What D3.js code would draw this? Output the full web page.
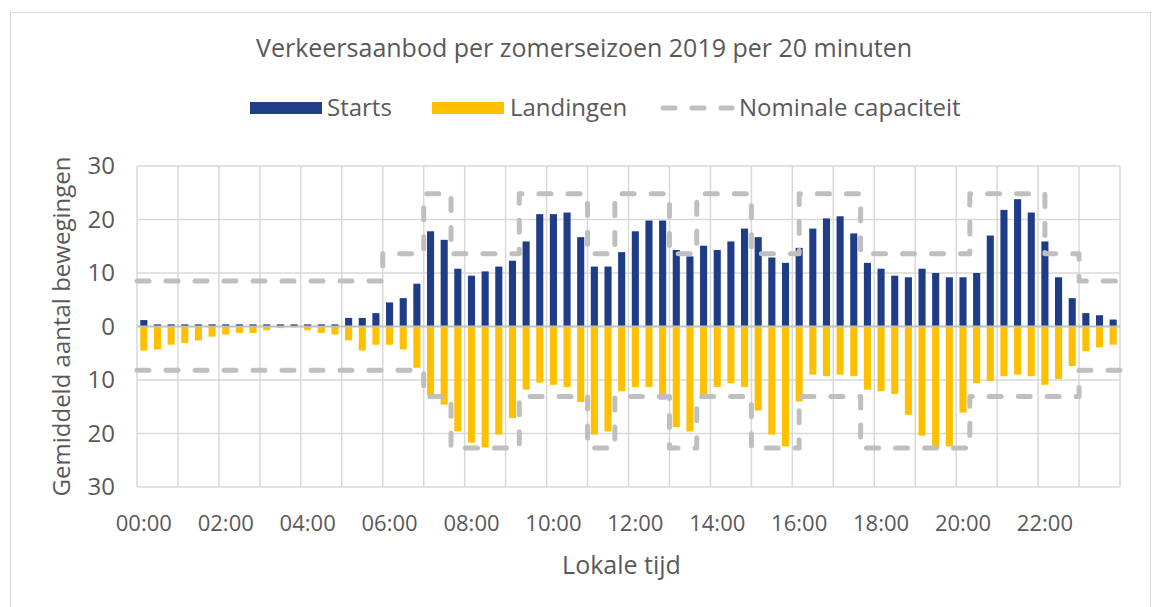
<!DOCTYPE html>
<html>
<head>
<meta charset="utf-8">
<script src="https://cdn.jsdelivr.net/npm/d3@7"></script>
<style>
  body { margin: 0; background: #fff; }
  text { font-family: "Open Sans", sans-serif; fill: #595959; }
</style>
</head>
<body>
<div id="chart"></div>
<script>
// 72 slots of 20 minutes
const categories = [
  "00:00","00:20","00:40","01:00","01:20","01:40","02:00","02:20","02:40","03:00","03:20","03:40",
  "04:00","04:20","04:40","05:00","05:20","05:40","06:00","06:20","06:40","07:00","07:20","07:40",
  "08:00","08:20","08:40","09:00","09:20","09:40","10:00","10:20","10:40","11:00","11:20","11:40",
  "12:00","12:20","12:40","13:00","13:20","13:40","14:00","14:20","14:40","15:00","15:20","15:40",
  "16:00","16:20","16:40","17:00","17:20","17:40","18:00","18:20","18:40","19:00","19:20","19:40",
  "20:00","20:20","20:40","21:00","21:20","21:40","22:00","22:20","22:40","23:00","23:20","23:40"
]

const starts = [
  1.2, 0.4, 0.4, 0.4, 0.4, 0.4, 0.4, 0.4, 0.4, 0.4, 0.4, 0.4,
  0.4, 0.4, 0.4, 1.6, 1.6, 2.5, 4.5, 5.3, 8.0, 17.8, 16.2, 10.8,
  9.5, 10.3, 11.2, 12.3, 15.9, 21.0, 21.0, 21.3, 16.7, 11.2, 11.2, 13.9,
  17.8, 19.8, 19.8, 14.3, 13.1, 15.1, 14.3, 15.9, 18.3, 16.7, 12.9, 11.9,
  14.7, 18.3, 20.2, 20.6, 17.4, 11.9, 10.8, 9.5, 9.2, 10.8, 10.0, 9.2,
  9.2, 10.0, 17.0, 21.8, 23.8, 21.3, 15.9, 9.2, 5.3, 2.5, 2.1, 1.3
]

const landingen = [
  4.5, 4.3, 3.4, 3.1, 2.6, 1.9, 1.5, 1.2, 1.2, 0.7, 0.3, 0.2,
  0.7, 1.2, 1.5, 2.6, 4.5, 3.4, 3.4, 4.3, 7.7, 12.9, 14.6, 19.6,
  21.7, 22.6, 20.2, 17.1, 11.8, 10.5, 10.9, 11.3, 14.1, 20.2, 19.6, 12.1,
  11.3, 11.3, 13.7, 18.8, 19.6, 12.9, 11.3, 10.6, 11.3, 15.7, 20.2, 22.4,
  14.0, 9.0, 9.3, 9.0, 9.3, 11.8, 12.1, 12.6, 16.5, 20.4, 22.9, 22.4,
  16.1, 10.6, 10.2, 9.3, 9.0, 9.3, 10.9, 9.8, 7.4, 4.6, 3.9, 3.4
]

// nominal capacity: step start (in 20-min slots) and value
const capStartsAt = [0, 18, 21, 23, 28, 33, 35, 39, 41, 45, 48.5, 53, 61, 66.5, 69, 72]
const capStarts   = [8.5, 13.6, 24.8, 13.6, 24.8, 13.6, 24.8, 13.6, 24.8, 13.6, 24.8, 13.6, 24.8, 13.6, 8.5, 8.5]
const capLandAt   = [0, 21, 23, 28, 33, 35, 39, 41, 45, 48.5, 53, 61, 69, 72]
const capLand     = [8.2, 13.1, 22.7, 13.1, 22.7, 13.1, 22.7, 13.1, 22.7, 13.1, 22.7, 13.1, 8.2, 8.2]

const xTickLabels = ["00:00","02:00","04:00","06:00","08:00","10:00","12:00","14:00","16:00","18:00","20:00","22:00"]
const yTicks = [-30, -20, -10, 0, 10, 20, 30]

const W = 1162, H = 607
let margin = { top: 166, right: 42, bottom: 120, left: 137 },
    width = W - margin.left - margin.right,
    height = H - margin.top - margin.bottom;

const root = d3.select("#chart").append("svg")
    .attr("width", W)
    .attr("height", H)

// chart frame
root.append("rect")
    .attr("x", 10.5).attr("y", 12.5)
    .attr("width", 1140).attr("height", 620)
    .attr("fill", "none")
    .attr("stroke", "#d9d9d9")

root.append("text")
    .attr("x", 584).attr("y", 57)
    .attr("text-anchor", "middle")
    .style("font-size", "25px")
    .text("Verkeersaanbod per zomerseizoen 2019 per 20 minuten")

const svg = root.append("g")
    .attr("transform", `translate(${margin.left}, ${margin.top})`);

/* scales */
let x = d3.scaleBand()
    .domain(categories)
    .range([0, width])
    .paddingInner(0.48)
    .paddingOuter(0.24);

let xu = d3.scaleLinear()
    .domain([0, categories.length])
    .range([0, width]);

let y = d3.scaleLinear()
    .domain([-30, 30])
    .range([height, 0]);

/* grid */
svg.append("g")
    .selectAll("line")
    .data(d3.range(0, categories.length + 1, 3))
    .enter()
    .append("line")
    .attr("x1", d => xu(d)).attr("x2", d => xu(d))
    .attr("y1", 0).attr("y2", height)
    .attr("stroke", "#d9d9d9")
    .attr("stroke-width", 1.5);

svg.append("g")
    .selectAll("line")
    .data(yTicks.filter(d => d !== 0))
    .enter()
    .append("line")
    .attr("x1", 0).attr("x2", width)
    .attr("y1", d => y(d)).attr("y2", d => y(d))
    .attr("stroke", "#d9d9d9")
    .attr("stroke-width", 1.5);

/* y-axis */
const yAxis = svg.append("g")
    .call(d3.axisLeft(y).tickValues(yTicks).tickFormat(d => Math.abs(d)).tickSize(0).tickPadding(22))
yAxis.select(".domain").remove()
yAxis.selectAll("text")
    .style("font-size", "24px")
    .attr("fill", "#595959")
    .style("font-family", "Open Sans, sans-serif")

svg.append('text')
    .attr('text-anchor', 'middle')
    .attr('transform', 'rotate(-90)')
    .attr("x", -height / 2)
    .attr("y", -67)
    .style("font-size", "24px")
    .text('Gemiddeld aantal bewegingen')

/* bars */
svg.selectAll("bar-start")
    .data(starts)
    .enter()
    .append("rect")
    .attr("x", (d, i) => x(categories[i]))
    .attr("y", d => y(d))
    .attr("width", x.bandwidth())
    .attr("height", d => y(0) - y(d))
    .attr("fill", "#1f3c86");

svg.selectAll("bar-land")
    .data(landingen)
    .enter()
    .append("rect")
    .attr("x", (d, i) => x(categories[i]))
    .attr("y", y(0))
    .attr("width", x.bandwidth())
    .attr("height", d => y(-d) - y(0))
    .attr("fill", "#ffc000");

/* zero line */
svg.append("line")
    .attr("x1", 0).attr("x2", width)
    .attr("y1", y(0)).attr("y2", y(0))
    .attr("stroke", "#bfbfbf")
    .attr("stroke-width", 2);

/* x-axis labels */
const xAxis = svg.append("g")
    .attr("transform", `translate(0, ${height})`)
    .call(d3.axisBottom(x).tickValues(xTickLabels).tickSize(0).tickPadding(28))
xAxis.select(".domain").remove()
xAxis.selectAll("text")
    .style("font-size", "22px")
    .attr("fill", "#595959")
    .style("font-family", "Open Sans, sans-serif")

svg.append('text')
    .attr('text-anchor', 'middle')
    .attr('x', xu(36) - 7)
    .attr('y', height + 87)
    .style("font-size", "25px")
    .text('Lokale tijd')

/* nominal capacity */
const capLine = d3.line()
    .x(d => xu(d[0]))
    .y(d => y(d[1]))
    .curve(d3.curveStepAfter)

const dashStyle = sel => sel
    .attr("fill", "none")
    .attr("stroke", "#bfbfbf")
    .attr("stroke-width", 5)
    .attr("stroke-dasharray", "12,17")
    .attr("stroke-linecap", "round")
    .attr("stroke-linejoin", "round")

svg.append("path")
    .attr("d", capLine(capStartsAt.map((t, i) => [t, capStarts[i]])))
    .call(dashStyle)

svg.append("path")
    .attr("d", capLine(capLandAt.map((t, i) => [t, -capLand[i]])))
    .call(dashStyle)

/* legend */
const legend = root.append("g").attr("transform", "translate(0, 108)")
legend.append("rect").attr("x", 250).attr("y", -6).attr("width", 72).attr("height", 12).attr("fill", "#1f3c86")
legend.append("text").attr("x", 327).attr("y", 8).style("font-size", "24px").text("Starts")
legend.append("rect").attr("x", 432).attr("y", -6).attr("width", 72).attr("height", 12).attr("fill", "#ffc000")
legend.append("text").attr("x", 510).attr("y", 8).style("font-size", "24px").text("Landingen")
legend.append("line")
    .attr("x1", 663).attr("x2", 732).attr("y1", 0).attr("y2", 0)
    .call(dashStyle)
legend.append("text").attr("x", 739).attr("y", 8).style("font-size", "24px").text("Nominale capaciteit")
</script>
</body>
</html>
